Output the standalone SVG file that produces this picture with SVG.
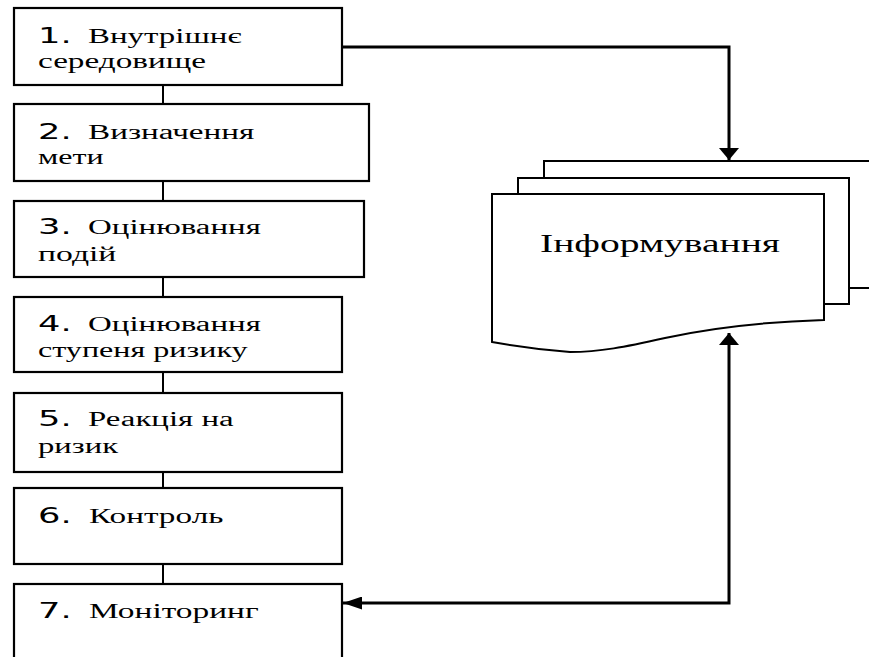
<svg xmlns="http://www.w3.org/2000/svg" width="869" height="657" viewBox="0 0 869 657">
  <style>
    .box { fill: #ffffff; stroke: #000000; stroke-width: 2.2; }
    .sheet { fill: #ffffff; stroke: #000000; stroke-width: 2; stroke-linejoin: miter; }
    .link { fill: none; stroke: #000000; stroke-width: 2; }
    .flow { fill: none; stroke: #000000; stroke-width: 3; }
    .num { font-family: "DejaVu Sans", "Liberation Sans", sans-serif; font-size: 22px; fill: #000000; }
    .lbl { font-family: "Liberation Serif", "Times New Roman", serif; font-size: 20px; fill: #000000; }
    .doc { font-family: "Liberation Serif", "Times New Roman", serif; font-size: 26px; fill: #000000; }
  </style>
  <defs>
    <marker id="arrow-v" markerUnits="userSpaceOnUse" viewBox="0 0 12 20" refX="12" refY="10" markerWidth="12" markerHeight="20" orient="auto-start-reverse">
      <path d="M0,0 L12,10 L0,20 Z" fill="#000000"/>
    </marker>
    <marker id="arrow-h" markerUnits="userSpaceOnUse" viewBox="0 0 19 13" refX="19" refY="6.5" markerWidth="19" markerHeight="13" orient="auto">
      <path d="M0,0 L19,6.5 L0,13 Z" fill="#000000"/>
    </marker>
  </defs>

  <rect width="869" height="657" fill="#ffffff"/>

  <!-- connectors -->
  <g id="connectors">
    <line class="link" x1="163" y1="85" x2="163" y2="104"/>
    <line class="link" x1="163" y1="181" x2="163" y2="201"/>
    <line class="link" x1="163" y1="277" x2="163" y2="297"/>
    <line class="link" x1="163" y1="372" x2="163" y2="393"/>
    <line class="link" x1="163" y1="468" x2="163" y2="488"/>
    <line class="link" x1="163" y1="564" x2="163" y2="584"/>
    <path class="flow" d="M342,47 H729 V160" marker-end="url(#arrow-v)"/>
    <path class="flow" d="M729,333 V603 H343" marker-start="url(#arrow-v)" marker-end="url(#arrow-h)"/>
  </g>

  <!-- stacked document: Інформування -->
  <g id="informing">
    <path class="sheet" d="M544,178 V161 H872"/>
    <path class="sheet" d="M849,288 H872"/>
    <path class="sheet" d="M518,194 V178 H849 V304 H825"/>
    <path class="sheet" d="M492,194 H824 V320 C760,322 710,328 665,338 C625,347 600,352 570,352 Q530,349 492,342 Z"/>
    <g transform="translate(540,252) scale(1.5,1)">
      <text class="doc" x="0" y="0" textLength="160" lengthAdjust="spacingAndGlyphs">Інформування</text>
    </g>
  </g>

  <!-- step labels: numbers in a sans face, words in a serif face, both widened 1.6x -->
  <g id="step1">
    <rect class="box" x="14" y="8" width="328" height="77"/>
    <g transform="translate(38,43) scale(1.6,1)"><text class="num" textLength="21" lengthAdjust="spacingAndGlyphs">1.</text></g>
    <g transform="translate(88,43) scale(1.6,1)"><text class="lbl" textLength="96" lengthAdjust="spacingAndGlyphs">Внутрішнє</text></g>
    <g transform="translate(38,68) scale(1.6,1)"><text class="lbl" textLength="105" lengthAdjust="spacingAndGlyphs">середовище</text></g>
  </g>

  <g id="step2">
    <rect class="box" x="14" y="104" width="355" height="77"/>
    <g transform="translate(38,139) scale(1.6,1)"><text class="num" textLength="21" lengthAdjust="spacingAndGlyphs">2.</text></g>
    <g transform="translate(88,139) scale(1.6,1)"><text class="lbl" textLength="104" lengthAdjust="spacingAndGlyphs">Визначення</text></g>
    <g transform="translate(38,164) scale(1.6,1)"><text class="lbl" textLength="41" lengthAdjust="spacingAndGlyphs">мети</text></g>
  </g>

  <g id="step3">
    <rect class="box" x="14" y="201" width="350" height="76"/>
    <g transform="translate(38,234) scale(1.6,1)"><text class="num" textLength="21" lengthAdjust="spacingAndGlyphs">3.</text></g>
    <g transform="translate(88,234) scale(1.6,1)"><text class="lbl" textLength="108" lengthAdjust="spacingAndGlyphs">Оцінювання</text></g>
    <g transform="translate(38,261) scale(1.6,1)"><text class="lbl" textLength="49" lengthAdjust="spacingAndGlyphs">подій</text></g>
  </g>

  <g id="step4">
    <rect class="box" x="14" y="297" width="328" height="75"/>
    <g transform="translate(38,331) scale(1.6,1)"><text class="num" textLength="21" lengthAdjust="spacingAndGlyphs">4.</text></g>
    <g transform="translate(88,331) scale(1.6,1)"><text class="lbl" textLength="108" lengthAdjust="spacingAndGlyphs">Оцінювання</text></g>
    <g transform="translate(38,357) scale(1.6,1)"><text class="lbl" textLength="131" lengthAdjust="spacingAndGlyphs">ступеня ризику</text></g>
  </g>

  <g id="step5">
    <rect class="box" x="14" y="393" width="328" height="79"/>
    <g transform="translate(38,426) scale(1.6,1)"><text class="num" textLength="21" lengthAdjust="spacingAndGlyphs">5.</text></g>
    <g transform="translate(88,426) scale(1.6,1)"><text class="lbl" textLength="91" lengthAdjust="spacingAndGlyphs">Реакція на</text></g>
    <g transform="translate(38,453) scale(1.6,1)"><text class="lbl" textLength="50" lengthAdjust="spacingAndGlyphs">ризик</text></g>
  </g>

  <g id="step6">
    <rect class="box" x="14" y="488" width="328" height="76"/>
    <g transform="translate(38,523) scale(1.6,1)"><text class="num" textLength="21" lengthAdjust="spacingAndGlyphs">6.</text></g>
    <g transform="translate(89,523) scale(1.6,1)"><text class="lbl" textLength="84" lengthAdjust="spacingAndGlyphs">Контроль</text></g>
  </g>

  <g id="step7">
    <rect class="box" x="14" y="584" width="328" height="100"/>
    <g transform="translate(38,618) scale(1.6,1)"><text class="num" textLength="21" lengthAdjust="spacingAndGlyphs">7.</text></g>
    <g transform="translate(89,618) scale(1.6,1)"><text class="lbl" textLength="106" lengthAdjust="spacingAndGlyphs">Моніторинг</text></g>
  </g>
</svg>
